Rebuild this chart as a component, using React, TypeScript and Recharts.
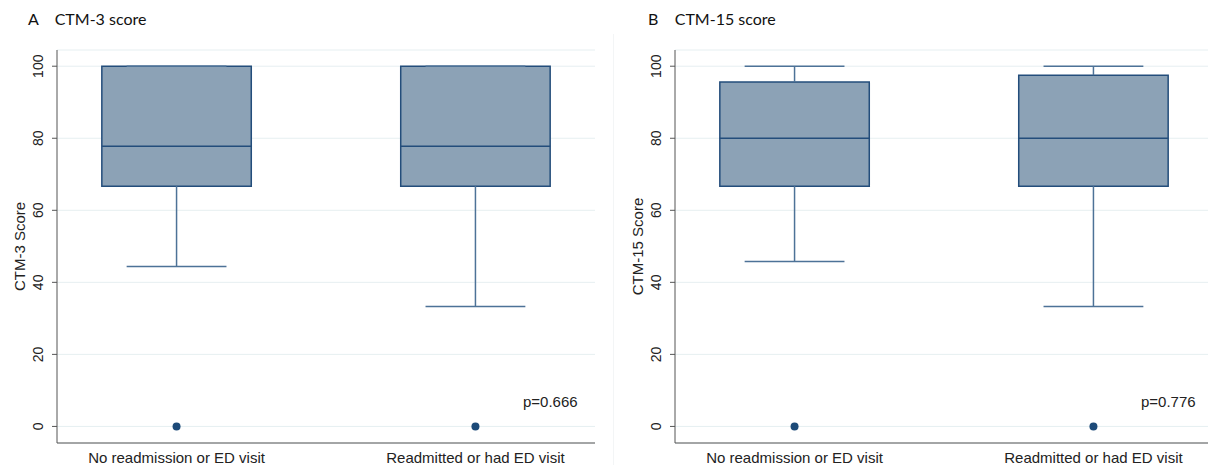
import React from "react";
import {
  ComposedChart,
  CartesianGrid,
  XAxis,
  YAxis,
  Scatter,
  ReferenceArea,
  ReferenceLine,
} from "recharts";

// groups on the x axis
const groups = ["No readmission or ED visit", "Readmitted or had ED visit"];
const yTicks = [0, 20, 40, 60, 80, 100];

// CTM-3 box stats per group
const ctm3Min = [44.4, 33.3];
const ctm3Q1 = [66.7, 66.7];
const ctm3Median = [77.8, 77.8];
const ctm3Q3 = [100, 100];
const ctm3Max = [100, 100];
const ctm3Outliers = [0, 0];

// CTM-15 box stats per group
const ctm15Min = [45.8, 33.3];
const ctm15Q1 = [66.7, 66.7];
const ctm15Median = [80, 80];
const ctm15Q3 = [95.6, 97.5];
const ctm15Max = [100, 100];
const ctm15Outliers = [0, 0];

const BOX_FILL = "#8ca2b6";
const BOX_STROKE = "#234d7b";
const WHISKER = "#4d7297";
const AXIS = "#555555";
const GRID = "#e6eff1";
const HALF_BOX = 0.25;
const HALF_CAP = 0.167;

interface BoxStats {
  min: number[];
  q1: number[];
  median: number[];
  q3: number[];
  max: number[];
  outliers: number[];
}

const YTick = (props: any) => {
  const { x, y, payload } = props;
  return (
    <text
      x={x - 7}
      y={y}
      transform={`rotate(-90, ${x - 7}, ${y})`}
      textAnchor="middle"
      fontSize={14}
      fontFamily="'Liberation Sans', Arial, sans-serif"
      fill="#222"
    >
      {payload.value}
    </text>
  );
};

function BoxPanel({ title, stats }: { title: string; stats: BoxStats }) {
  const outlierData = groups.map((_, i) => ({ x: i + 1, y: stats.outliers[i] }));
  return (
    <ComposedChart
      width={600}
      height={465}
      margin={{ top: 50, right: 5, left: 17, bottom: 0 }}
    >
      <CartesianGrid horizontal vertical={false} stroke={GRID} />
      <XAxis
        type="number"
        dataKey="x"
        domain={[0.6, 2.4]}
        ticks={[1, 2]}
        allowDataOverflow
        tickFormatter={(v: number) => groups[v - 1]}
        tickLine={false}
        axisLine={{ stroke: AXIS }}
        height={22}
        tickMargin={3}
        tick={{
          fontSize: 15,
          fill: "#222",
          fontFamily: "'Liberation Sans', Arial, sans-serif",
        }}
      />
      <YAxis
        type="number"
        dataKey="y"
        domain={[-4.6, 104.5]}
        ticks={yTicks}
        allowDataOverflow
        width={40}
        tickSize={5}
        tickMargin={2}
        tickLine={{ stroke: AXIS }}
        axisLine={{ stroke: AXIS }}
        tick={<YTick />}
        label={{
          content: (p: any) => {
            const vb = p.viewBox;
            const lx = vb.x + 8;
            const ly = vb.y + vb.height / 2;
            return (
              <text
                x={lx}
                y={ly}
                transform={`rotate(-90, ${lx}, ${ly})`}
                textAnchor="middle"
                fontSize={15}
                fontFamily="'Liberation Sans', Arial, sans-serif"
                fill="#222"
              >
                {title}
              </text>
            );
          },
        }}
      />
      {groups.map((g, i) => {
        const c = i + 1;
        return (
          <React.Fragment key={g}>
            <ReferenceLine
              segment={[
                { x: c, y: stats.q3[i] },
                { x: c, y: stats.max[i] },
              ]}
              stroke={WHISKER}
              strokeWidth={1.5}
              ifOverflow="visible"
            />
            <ReferenceLine
              segment={[
                { x: c - HALF_CAP, y: stats.max[i] },
                { x: c + HALF_CAP, y: stats.max[i] },
              ]}
              stroke={WHISKER}
              strokeWidth={1.5}
              ifOverflow="visible"
            />
            <ReferenceLine
              segment={[
                { x: c, y: stats.q1[i] },
                { x: c, y: stats.min[i] },
              ]}
              stroke={WHISKER}
              strokeWidth={1.5}
              ifOverflow="visible"
            />
            <ReferenceLine
              segment={[
                { x: c - HALF_CAP, y: stats.min[i] },
                { x: c + HALF_CAP, y: stats.min[i] },
              ]}
              stroke={WHISKER}
              strokeWidth={1.5}
              ifOverflow="visible"
            />
            <ReferenceArea
              x1={c - HALF_BOX}
              x2={c + HALF_BOX}
              y1={stats.q1[i]}
              y2={stats.q3[i]}
              fill={BOX_FILL}
              fillOpacity={1}
              stroke={BOX_STROKE}
              strokeWidth={1.5}
              ifOverflow="visible"
            />
            <ReferenceLine
              segment={[
                { x: c - HALF_BOX, y: stats.median[i] },
                { x: c + HALF_BOX, y: stats.median[i] },
              ]}
              stroke={BOX_STROKE}
              strokeWidth={1.5}
              ifOverflow="visible"
            />
          </React.Fragment>
        );
      })}
      <Scatter
        data={outlierData}
        isAnimationActive={false}
        shape={(p: any) => <circle cx={p.cx} cy={p.cy} r={4} fill="#1c4a78" />}
      />
    </ComposedChart>
  );
}

const titleStyle: React.CSSProperties = {
  position: "absolute",
  top: 8,
  fontFamily: "Lato, 'Open Sans', sans-serif",
  fontSize: 16,
  lineHeight: "22px",
  color: "#111",
  whiteSpace: "pre",
};

const pStyle: React.CSSProperties = {
  position: "absolute",
  top: 393,
  fontFamily: "'Liberation Sans', Arial, sans-serif",
  fontSize: 15,
  lineHeight: "18px",
  color: "#222",
};

export default function App() {
  return (
    <div
      style={{
        position: "absolute",
        left: 0,
        top: 0,
        width: 1208,
        height: 465,
        overflow: "hidden",
        background: "#fff",
      }}
    >
      <div
        style={{
          position: "absolute",
          left: 613,
          top: 34,
          width: 1,
          height: 431,
          background: "#f3f5f6",
        }}
      />
      <div style={{ position: "absolute", left: 0, top: 0 }}>
        <BoxPanel
          title="CTM-3 Score"
          stats={{
            min: ctm3Min,
            q1: ctm3Q1,
            median: ctm3Median,
            q3: ctm3Q3,
            max: ctm3Max,
            outliers: ctm3Outliers,
          }}
        />
      </div>
      <div style={{ position: "absolute", left: 618, top: 0 }}>
        <BoxPanel
          title="CTM-15 Score"
          stats={{
            min: ctm15Min,
            q1: ctm15Q1,
            median: ctm15Median,
            q3: ctm15Q3,
            max: ctm15Max,
            outliers: ctm15Outliers,
          }}
        />
      </div>
      <div style={{ ...titleStyle, left: 28 }}>{"A    CTM-3 score"}</div>
      <div style={{ ...titleStyle, left: 648 }}>{"B    CTM-15 score"}</div>
      <div style={{ ...pStyle, left: 523 }}>p=0.666</div>
      <div style={{ ...pStyle, left: 1141 }}>p=0.776</div>
    </div>
  );
}
